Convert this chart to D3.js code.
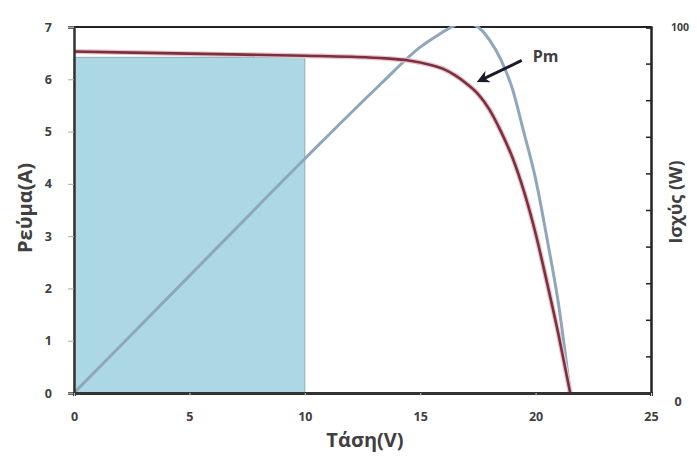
<!DOCTYPE html>
<html>
<head>
<meta charset="utf-8">
<script src="https://cdn.jsdelivr.net/npm/d3@7"></script>
<style>
  html, body { margin: 0; padding: 0; background: #ffffff; }
  svg { display: block; }
  text { font-family: "Open Sans", "DejaVu Sans", sans-serif; font-weight: 700; fill: #404040; }
</style>
</head>
<body>
<svg id="chart" width="697" height="458"></svg>
<script>
// ---- data ----
const voltageTicks = [0, 5, 10, 15, 20, 25];
const currentTicks = [0, 1, 2, 3, 4, 5, 6, 7];
const powerTicks = [0, 10, 20, 30, 40, 50, 60, 70, 80, 90, 100];
const powerTickLabels = ["0", "100"];

// I-V curve (Τάση V, Ρεύμα A)
const ivVoltage = [0, 5, 10, 12, 13.5, 14.5, 15.5, 16, 16.5, 17, 17.5, 18, 18.5, 19, 19.5, 20, 20.5, 21, 21.5];
const ivCurrent = [6.53, 6.49, 6.45, 6.43, 6.40, 6.36, 6.27, 6.20, 6.08, 5.92, 5.72, 5.42, 5.00, 4.50, 3.85, 3.05, 2.10, 1.10, 0];

// P-V curve (Τάση V, Ισχύς W)
const pvVoltage = [0, 5, 10, 13.3, 15, 15.9, 16.3, 16.9, 17.5, 18, 18.5, 19, 19.5, 20, 20.5, 21, 21.5];
const pvPower = [0, 32, 64, 84.5, 94.5, 98.3, 99.8, 101.3, 100, 96.5, 91, 83, 71, 58.5, 42, 24, 0];

// shaded region
const shadeVoltage = [0, 10];
const shadeCurrent = 6.42;

// annotation
const annotLabel = "Pm";
const annotTip = [17.6, 5.98];
const annotStart = [19.4, 6.36];

// ---- layout ----
const svg = d3.select("#chart");
const W = 697, H = 458;
const m = { left: 74, right: 46, top: 27, bottom: 65 };
const x = d3.scaleLinear().domain([0, 25]).range([m.left, W - m.right]);
const yI = d3.scaleLinear().domain([0, 7]).range([H - m.bottom, m.top]);
const yP = d3.scaleLinear().domain([0, 100]).range([H - m.bottom, m.top]);

svg.append("rect").attr("width", W).attr("height", H).attr("fill", "#fff");

const defs = svg.append("defs");
defs.append("clipPath").attr("id", "clip")
  .append("rect")
  .attr("x", m.left).attr("y", m.top - 1)
  .attr("width", x(25) - m.left).attr("height", yI(0) - m.top + 1);
defs.append("marker").attr("id", "arrow")
  .attr("viewBox", "0 0 10 10").attr("refX", 7).attr("refY", 5)
  .attr("markerWidth", 4.2).attr("markerHeight", 4.2).attr("orient", "auto")
  .append("path").attr("d", "M0,0 L10,5 L0,10 L3,5 Z").attr("fill", "#1a1a2a");

// shaded rectangle
svg.append("rect")
  .attr("x", x(shadeVoltage[0]))
  .attr("y", yI(shadeCurrent))
  .attr("width", x(shadeVoltage[1]) - x(shadeVoltage[0]))
  .attr("height", yI(0) - yI(shadeCurrent))
  .attr("fill", "#acd8e6")
  .attr("stroke", "#8fa8b6").attr("stroke-width", 1);

// frame top
svg.append("line")
  .attr("x1", x(0)).attr("x2", x(25)).attr("y1", yI(7)).attr("y2", yI(7))
  .attr("stroke", "#222").attr("stroke-width", 2);

// curves
const ivData = ivVoltage.map((v, i) => [v, ivCurrent[i]]);
const pvData = pvVoltage.map((v, i) => [v, pvPower[i]]);
const g = svg.append("g").attr("clip-path", "url(#clip)");

const lineI = d3.line().x(d => x(d[0])).y(d => yI(d[1])).curve(d3.curveMonotoneX);
const lineP = d3.line().x(d => x(d[0])).y(d => yP(d[1])).curve(d3.curveMonotoneX);

g.append("path").datum(pvData).attr("d", lineP)
  .attr("fill", "none").attr("stroke", "#8fa6bb").attr("stroke-width", 3);
g.append("path").datum(ivData).attr("d", lineI)
  .attr("fill", "none").attr("stroke", "#e8c4c8").attr("stroke-width", 5);
g.append("path").datum(ivData).attr("d", lineI)
  .attr("fill", "none").attr("stroke", "#7a3040").attr("stroke-width", 2.6);

// left axis
const axL = svg.append("g").attr("transform", `translate(${x(0)},0)`)
  .call(d3.axisLeft(yI).tickValues(currentTicks).tickSize(6).tickPadding(16).tickFormat(d3.format("d")));
axL.select(".domain").attr("stroke", "#333").attr("stroke-width", 2.5);
axL.selectAll(".tick line").attr("stroke", "#aaa");
axL.selectAll("text").attr("font-size", 12.5).attr("fill", "#404040");

// right axis
const axR = svg.append("g").attr("transform", `translate(${x(25)},0)`)
  .call(d3.axisLeft(yP).tickValues(powerTicks).tickSize(5).tickFormat(""));
axR.select(".domain").attr("stroke", "#222").attr("stroke-width", 2.5);
axR.selectAll(".tick line").attr("stroke", "#222").attr("stroke-width", 1.5);
svg.append("text").attr("x", x(25) + 29).attr("y", yP(100) + 4)
  .attr("text-anchor", "middle").attr("font-size", 10.5).text(powerTickLabels[1]);
svg.append("text").attr("x", x(25) + 27).attr("y", yP(0) + 13)
  .attr("text-anchor", "middle").attr("font-size", 12.5).text(powerTickLabels[0]);

// bottom axis
const axB = svg.append("g").attr("transform", `translate(0,${yI(0)})`)
  .call(d3.axisBottom(x).tickValues(voltageTicks).tickSize(3).tickPadding(16).tickFormat(d3.format("d")));
axB.select(".domain").attr("stroke", "#333").attr("stroke-width", 3);
axB.selectAll(".tick line").attr("stroke", "#ccc");
axB.selectAll("text").attr("font-size", 12.5).attr("fill", "#404040");

// axis titles
svg.append("text")
  .attr("transform", `translate(32,${(yI(0) + yI(7)) / 2 - 2}) rotate(-90)`)
  .attr("text-anchor", "middle").attr("font-size", 20).attr("fill", "#454545")
  .text("Ρεύμα(Α)");
svg.append("text")
  .attr("x", 365).attr("y", 447)
  .attr("text-anchor", "middle").attr("font-size", 20).attr("fill", "#454545")
  .text("Τάση(V)");
svg.append("text")
  .attr("transform", `translate(682,${(yI(0) + yI(7)) / 2 - 8}) rotate(-90)`)
  .attr("text-anchor", "middle").attr("font-size", 18).attr("fill", "#454545")
  .text("Ισχύς (W)");

// annotation
svg.append("line")
  .attr("x1", x(annotStart[0])).attr("y1", yI(annotStart[1]))
  .attr("x2", x(annotTip[0])).attr("y2", yI(annotTip[1]))
  .attr("stroke", "#1a1a2a").attr("stroke-width", 3)
  .attr("marker-end", "url(#arrow)");
svg.append("text")
  .attr("x", x(annotStart[0]) + 11).attr("y", yI(annotStart[1]) + 2)
  .attr("font-size", 16).attr("fill", "#333")
  .text(annotLabel);
</script>
</body>
</html>
